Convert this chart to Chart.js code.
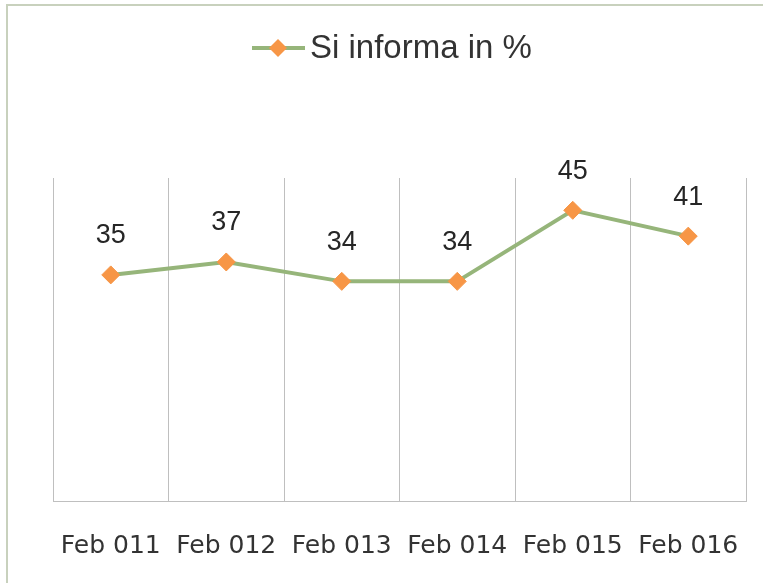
<!DOCTYPE html>
<html>
<head>
<meta charset="utf-8">
<script src="https://cdn.jsdelivr.net/npm/chart.js@4"></script>
<style>
  html, body { margin: 0; padding: 0; background: #fff; }
  #wrap { width: 763px; height: 583px; }
</style>
</head>
<body>
<div id="wrap"><canvas id="chart" width="763" height="583"></canvas></div>
<script>
const labels = ['Feb 011', 'Feb 012', 'Feb 013', 'Feb 014', 'Feb 015', 'Feb 016'];
const values = [35, 37, 34, 34, 45, 41];
const seriesName = 'Si informa in %';

const lineColor = '#96b57a';
const markerColor = '#f79646';

// white background, thin frame along the top and left, and the legend
const decor = {
  id: 'decor',
  beforeDraw(chart) {
    const c = chart.ctx;
    c.save();
    c.fillStyle = '#fff';
    c.fillRect(0, 0, chart.width, chart.height);
    c.strokeStyle = '#c8d1bd';
    c.lineWidth = 2;
    c.beginPath();
    c.moveTo(7, chart.height);
    c.lineTo(7, 5);
    c.lineTo(chart.width, 5);
    c.stroke();

    // legend: line + diamond + text
    const y = 48;
    c.strokeStyle = lineColor;
    c.lineWidth = 4;
    c.beginPath();
    c.moveTo(252, y);
    c.lineTo(305, y);
    c.stroke();
    c.fillStyle = markerColor;
    c.beginPath();
    c.moveTo(278, y - 9);
    c.lineTo(287, y);
    c.lineTo(278, y + 9);
    c.lineTo(269, y);
    c.closePath();
    c.fill();
    c.fillStyle = '#333';
    c.font = '33px "Liberation Sans", Arial, sans-serif';
    c.textBaseline = 'middle';
    c.textAlign = 'left';
    c.fillText(seriesName, 310, y + 1);
    c.restore();
  }
};

// value labels above each point
const valueLabels = {
  id: 'valueLabels',
  afterDatasetsDraw(chart) {
    const c = chart.ctx;
    const meta = chart.getDatasetMeta(0);
    c.save();
    c.fillStyle = '#262626';
    c.font = '27px "Liberation Sans", Arial, sans-serif';
    c.textAlign = 'center';
    c.textBaseline = 'middle';
    meta.data.forEach((pt, i) => {
      c.fillText(String(values[i]), pt.x, pt.y - 39);
    });
    c.restore();
  }
};

new Chart(document.getElementById('chart'), {
  type: 'line',
  data: {
    labels,
    datasets: [{
      label: seriesName,
      data: values,
      borderColor: lineColor,
      borderWidth: 4,
      pointStyle: 'rectRot',
      pointRadius: 9,
      pointBackgroundColor: markerColor,
      pointBorderColor: markerColor,
      pointBorderWidth: 1,
      tension: 0
    }]
  },
  options: {
    responsive: false,
    animation: false,
    layout: { padding: { left: 53, right: 17, top: 178, bottom: 0 } },
    plugins: {
      legend: { display: false },
      tooltip: { enabled: false }
    },
    scales: {
      x: {
        offset: true,
        afterFit(scale) {
          scale.height = 82;
          scale.paddingLeft = 0;
          scale.paddingRight = 0;
        },
        grid: { offset: true, color: '#bfbfbf', lineWidth: 1, drawTicks: false },
        border: { color: '#bfbfbf', width: 1 },
        ticks: {
          padding: 30,
          autoSkip: false,
          maxRotation: 0,
          color: '#333',
          font: { family: '"DejaVu Sans", sans-serif', size: 25 }
        }
      },
      y: {
        display: false,
        min: 0,
        max: 50
      }
    }
  },
  plugins: [decor, valueLabels]
});
</script>
</body>
</html>
